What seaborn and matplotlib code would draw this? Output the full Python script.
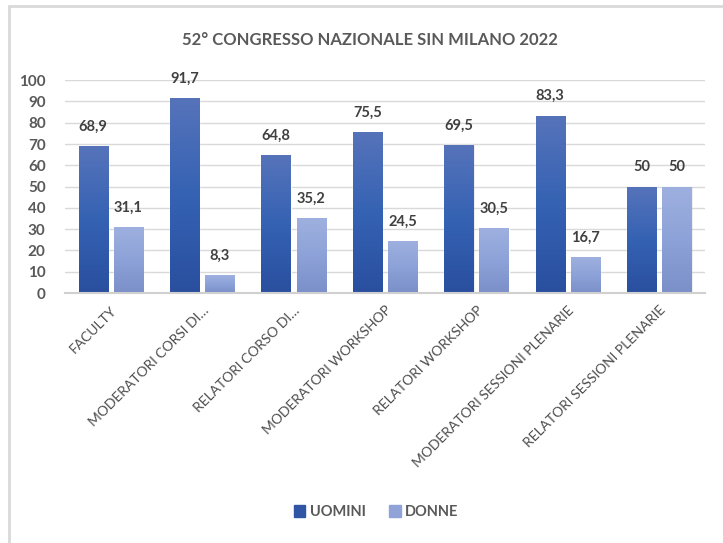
import numpy as np
import pandas as pd
import seaborn as sns
import matplotlib.pyplot as plt
from matplotlib.patches import Patch, Rectangle
from matplotlib.colors import LinearSegmentedColormap

categories = ['FACULTY', 'MODERATORI CORSI DI…', 'RELATORI CORSO DI…',
              'MODERATORI WORKSHOP', 'RELATORI WORKSHOP',
              'MODERATORI SESSIONI PLENARIE', 'RELATORI SESSIONI PLENARIE']
uomini = [68.9, 91.7, 64.8, 75.5, 69.5, 83.3, 50]
donne = [31.1, 8.3, 35.2, 24.5, 30.5, 16.7, 50]
series = ['UOMINI', 'DONNE']

df = pd.DataFrame({'cat': categories * 2,
                   'val': uomini + donne,
                   'serie': ['UOMINI'] * len(uomini) + ['DONNE'] * len(donne)})

sns.set_style('white')
plt.rcParams['font.family'] = ['Lato', 'DejaVu Sans']
gray = '#595959'

fig = plt.figure(figsize=(7.23, 5.43), dpi=100)
ax = fig.add_axes([0.09, 0.4604, 0.885, 0.392])

sns.barplot(data=df, x='cat', y='val', hue='serie', order=categories,
            hue_order=series, palette=['#2f58a8', '#8fa3d8'],
            width=0.77, gap=0.17, legend=False, ax=ax)

# gradient fill like the original (lighter on top)
grads = {0: ['#2a4f9f', '#3562b3', '#5673ba'], 1: ['#7b8fc9', '#8da2d8', '#9eb0df']}
n = len(categories)
for i, p in enumerate(ax.patches):
    s = i // n
    cmap = LinearSegmentedColormap.from_list('g%d' % s, grads[s])
    x0, w, h = p.get_x(), p.get_width(), p.get_height()
    # soft shadow
    ax.add_patch(Rectangle((x0 + 0.012, 0), w, h - 0.3, color='#000000', alpha=0.08,
                           zorder=1.5, lw=0))
    im = ax.imshow(np.linspace(0, 1, 100).reshape(-1, 1), cmap=cmap, origin='lower',
                   extent=(x0, x0 + w, 0, h), aspect='auto', zorder=2.5)
    im.set_clip_path(p)
    p.set_zorder(2)
    lbl = ('%g' % p.get_height()).replace('.', ',')
    ax.annotate(lbl, (x0 + w / 2, h), xytext=(0, 14), textcoords='offset points',
                ha='center', va='center', fontsize=10.5, fontweight='bold', color='#404040')

ax.set_xlim(-0.5, n - 0.5)
ax.set_ylim(0, 100)
ax.set_yticks(range(0, 101, 10))
ax.yaxis.grid(True, color='#d9d9d9', lw=1)
ax.set_axisbelow(True)
for sp in ['top', 'right', 'left']:
    ax.spines[sp].set_visible(False)
ax.spines['bottom'].set_color('#d0d0d0')
ax.spines['bottom'].set_linewidth(1.5)
ax.tick_params(axis='both', length=0)
ax.set_xlabel('')
ax.set_ylabel('')
plt.setp(ax.get_yticklabels(), fontsize=11, fontweight='bold', color=gray)
ax.set_xticks(range(n))
ax.set_xticklabels(categories, rotation=45, ha='right', rotation_mode='anchor',
                   fontsize=10, color='#4d4d4d')
ax.tick_params(axis='x', pad=8)
ax.tick_params(axis='y', pad=14)

fig.text(0.512, 0.927, '52° CONGRESSO NAZIONALE SIN MILANO 2022', ha='center', va='center',
         fontsize=12, fontweight='bold', color=gray)

handles = [Patch(color='#2f55a4'), Patch(color='#8fa3d8')]
fig.legend(handles, series, loc='center', bbox_to_anchor=(0.52, 0.057), ncol=2,
           frameon=False, handlelength=0.8, handleheight=0.8, handletextpad=0.3,
           columnspacing=1.6, prop={'size': 10.5, 'weight': 'bold'}, labelcolor=gray)

# chart frame (top and left edges)
fig.add_artist(plt.Line2D([0.012, 1.0], [0.989, 0.989], color='#d9d9d9', lw=2,
                          transform=fig.transFigure))
fig.add_artist(plt.Line2D([0.012, 0.012], [0.0, 0.989], color='#d9d9d9', lw=2,
                          transform=fig.transFigure))

plt.savefig('out.png', dpi=100)
